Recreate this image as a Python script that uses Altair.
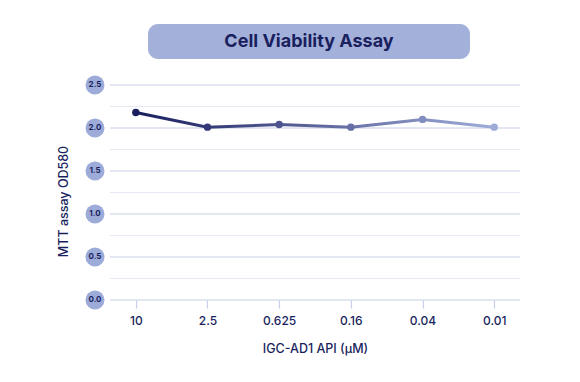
import altair as alt
import pandas as pd

# ---- data ----
concentrations = ["10", "2.5", "0.625", "0.16", "0.04", "0.01"]
od580 = [2.18, 2.01, 2.04, 2.01, 2.10, 2.01]
major_ticks = [0.0, 0.5, 1.0, 1.5, 2.0, 2.5]
minor_ticks = [0.25, 0.75, 1.25, 1.75, 2.25]
title_text = "Cell Viability Assay"
x_title = "IGC-AD1 API (µM)"
y_title = "MTT assay OD580"

# ---- styles ----
NAVY = "#1a1f5e"
LIGHT = "#9eabd8"
BADGE = "#9dabd9"
BOX = "#a3b0da"
MAJOR_GRID = "#c6d0e6"
MINOR_GRID = "#e5e9f2"
FONT = "Inter"

W, H = 410, 215

df = pd.DataFrame({"conc": concentrations, "od": od580, "idx": list(range(len(concentrations)))})
major_df = pd.DataFrame({"v": major_ticks, "lab": [f"{v:.1f}" for v in major_ticks]})
minor_df = pd.DataFrame({"v": minor_ticks})
title_df = pd.DataFrame({"t": [title_text]})

yscale = alt.Scale(domain=[0, 2.5], nice=False)
xscale = alt.Scale(domain=concentrations, padding=0.36)

minor = alt.Chart(minor_df).mark_rule(color=MINOR_GRID, strokeWidth=1.2).encode(
    y=alt.Y("v:Q", scale=yscale)
)
major = alt.Chart(major_df).mark_rule(color=MAJOR_GRID, strokeWidth=1.2).encode(
    y=alt.Y("v:Q", scale=yscale)
)
badges = alt.Chart(major_df).mark_circle(color=BADGE, opacity=1, size=360).encode(
    x=alt.value(-15), y=alt.Y("v:Q", scale=yscale)
)
badge_text = alt.Chart(major_df).mark_text(
    color=NAVY, font=FONT, fontSize=8, fontWeight="bold"
).encode(x=alt.value(-15), y=alt.Y("v:Q", scale=yscale), text="lab:N")

line = alt.Chart(df).mark_line(
    strokeWidth=3,
    color=alt.Gradient(
        gradient="linear",
        stops=[alt.GradientStop(color=NAVY, offset=0), alt.GradientStop(color=LIGHT, offset=1)],
        x1=0, x2=1, y1=0, y2=0,
    ),
).encode(
    x=alt.X("conc:N", sort=concentrations, scale=xscale,
            axis=alt.Axis(title=x_title, labelAngle=0, domain=False, grid=False,
                          tickColor=MAJOR_GRID, tickSize=8, tickWidth=1.2,
                          labelColor=NAVY, labelFont=FONT, labelFontSize=12,
                          labelFontWeight=500, labelPadding=7,
                          titleColor=NAVY, titleFont=FONT, titleFontSize=12.5,
                          titleFontWeight=500, titlePadding=16)),
    y=alt.Y("od:Q", scale=yscale,
            axis=alt.Axis(title=y_title, labels=False, ticks=False, domain=False, grid=False,
                          titleColor=NAVY, titleFont=FONT, titleFontSize=12.5,
                          titleFontWeight=500, titleX=-47, titleY=116,
                          titleAngle=-90, titleAlign="center", titleBaseline="middle")),
)
points = alt.Chart(df).mark_circle(size=55, opacity=1).encode(
    x=alt.X("conc:N", sort=concentrations, scale=xscale),
    y=alt.Y("od:Q", scale=yscale),
    color=alt.Color("idx:Q", scale=alt.Scale(range=[NAVY, LIGHT]), legend=None),
)

title_box = alt.Chart(title_df).mark_rect(
    color=BOX, cornerRadius=10, strokeWidth=0
).encode(x=alt.value(38), x2=alt.value(360), y=alt.value(-61), y2=alt.value(-26))
title_mark = alt.Chart(title_df).mark_text(
    color=NAVY, font=FONT, fontSize=18, fontWeight="bold"
).encode(x=alt.value(199), y=alt.value(-43), text="t:N")

chart = alt.layer(
    minor, major, badges, badge_text, line, points, title_box, title_mark
).properties(
    width=W, height=H,
    autosize=alt.AutoSizeParams(type="none"),
    padding={"left": 102, "top": 77, "right": 52, "bottom": 74},
).configure_view(stroke=None)

chart.save("out.html", embed_options={"renderer": "svg", "actions": False})
